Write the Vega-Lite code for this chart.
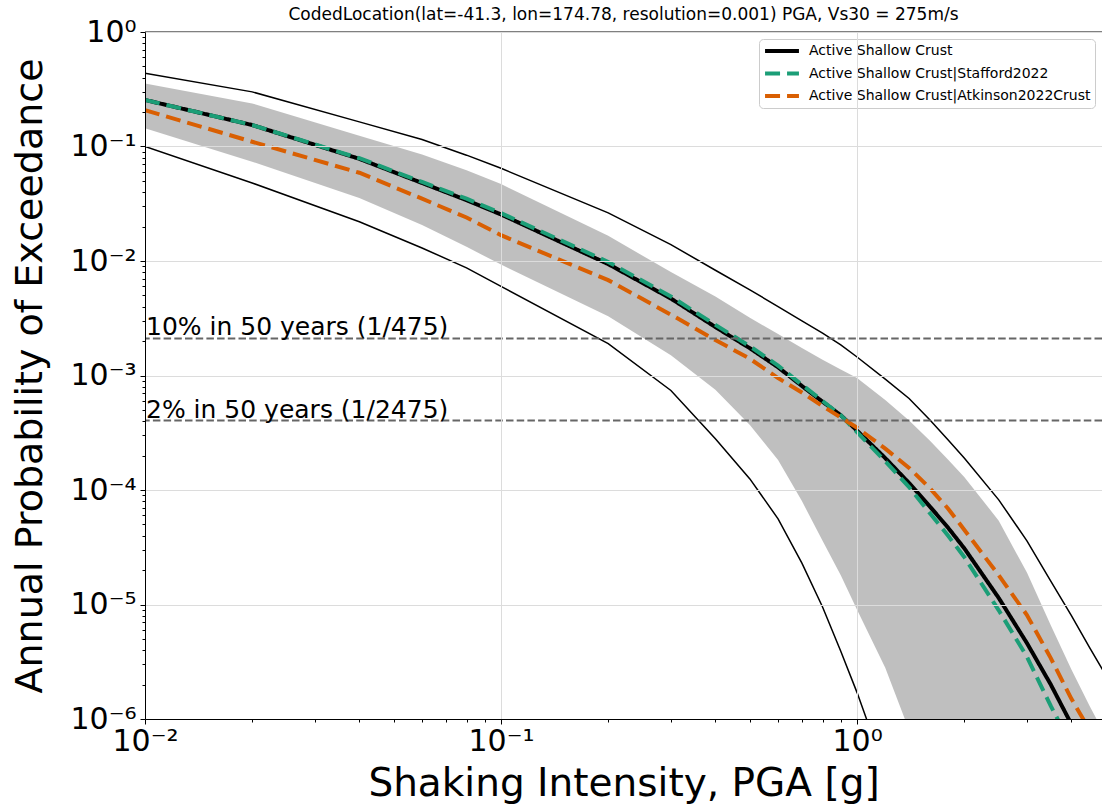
{
  "$schema": "https://vega.github.io/schema/vega-lite/v6.json",
  "width": 957,
  "height": 687,
  "autosize": "none",
  "padding": {"left": 145, "top": 32, "right": 0, "bottom": 88},
  "background": "white",
  "title": {"text": "CodedLocation(lat=-41.3, lon=174.78, resolution=0.001) PGA, Vs30 = 275m/s", "fontSize": 17, "font": "DejaVu Sans", "fontWeight": "normal", "color": "black", "anchor": "middle", "frame": "group", "offset": -7},
  "datasets": {
    "band": [
      {"pga": 0.01, "hi": 0.355, "lo": 0.144},
      {"pga": 0.02, "hi": 0.238, "lo": 0.0736},
      {"pga": 0.04, "hi": 0.124, "lo": 0.0355},
      {"pga": 0.06, "hi": 0.085, "lo": 0.0206},
      {"pga": 0.08, "hi": 0.062, "lo": 0.0133},
      {"pga": 0.1, "hi": 0.047, "lo": 0.0093},
      {"pga": 0.2, "hi": 0.0166, "lo": 0.0033},
      {"pga": 0.3, "hi": 0.008, "lo": 0.0015},
      {"pga": 0.4, "hi": 0.0049, "lo": 0.00075},
      {"pga": 0.5, "hi": 0.0032, "lo": 0.00037},
      {"pga": 0.6, "hi": 0.0023, "lo": 0.000183},
      {"pga": 0.7, "hi": 0.00174, "lo": 0.00008},
      {"pga": 0.8, "hi": 0.00137, "lo": 0.000036},
      {"pga": 0.9, "hi": 0.00113, "lo": 0.000018},
      {"pga": 1.0, "hi": 0.00095, "lo": 0.000009},
      {"pga": 1.2, "hi": 0.00061, "lo": 0.0000028},
      {"pga": 1.4, "hi": 0.000405, "lo": 0.0000008},
      {"pga": 1.6, "hi": 0.00027, "lo": 0.00000022},
      {"pga": 1.8, "hi": 0.000185, "lo": 0.00000006},
      {"pga": 2.0, "hi": 0.00013, "lo": 0.000000015},
      {"pga": 2.5, "hi": 0.000054, "lo": 1e-9},
      {"pga": 3.0, "hi": 0.000019, "lo": 1e-10},
      {"pga": 3.5, "hi": 0.0000066, "lo": 1e-11},
      {"pga": 4.0, "hi": 0.0000027, "lo": 1e-12},
      {"pga": 4.5, "hi": 0.0000013, "lo": 1e-13},
      {"pga": 5.0, "hi": 0.0000007, "lo": 1e-14}
    ],
    "bounds": [
      {"pga": 0.01, "v": 0.436, "b": "upper"},
      {"pga": 0.02, "v": 0.3, "b": "upper"},
      {"pga": 0.04, "v": 0.164, "b": "upper"},
      {"pga": 0.06, "v": 0.115, "b": "upper"},
      {"pga": 0.08, "v": 0.084, "b": "upper"},
      {"pga": 0.1, "v": 0.0645, "b": "upper"},
      {"pga": 0.2, "v": 0.0263, "b": "upper"},
      {"pga": 0.3, "v": 0.0139, "b": "upper"},
      {"pga": 0.4, "v": 0.0083, "b": "upper"},
      {"pga": 0.5, "v": 0.0056, "b": "upper"},
      {"pga": 0.6, "v": 0.004, "b": "upper"},
      {"pga": 0.7, "v": 0.003, "b": "upper"},
      {"pga": 0.8, "v": 0.00234, "b": "upper"},
      {"pga": 0.9, "v": 0.00185, "b": "upper"},
      {"pga": 1.0, "v": 0.00145, "b": "upper"},
      {"pga": 1.2, "v": 0.00093, "b": "upper"},
      {"pga": 1.4, "v": 0.00063, "b": "upper"},
      {"pga": 1.6, "v": 0.00041, "b": "upper"},
      {"pga": 1.8, "v": 0.000275, "b": "upper"},
      {"pga": 2.0, "v": 0.00019, "b": "upper"},
      {"pga": 2.5, "v": 0.000082, "b": "upper"},
      {"pga": 3.0, "v": 0.000036, "b": "upper"},
      {"pga": 3.5, "v": 0.000016, "b": "upper"},
      {"pga": 4.0, "v": 0.000008, "b": "upper"},
      {"pga": 4.5, "v": 0.0000042, "b": "upper"},
      {"pga": 5.0, "v": 0.0000024, "b": "upper"},
      {"pga": 0.01, "v": 0.1, "b": "lower"},
      {"pga": 0.02, "v": 0.048, "b": "lower"},
      {"pga": 0.04, "v": 0.022, "b": "lower"},
      {"pga": 0.06, "v": 0.013, "b": "lower"},
      {"pga": 0.08, "v": 0.0087, "b": "lower"},
      {"pga": 0.1, "v": 0.006, "b": "lower"},
      {"pga": 0.2, "v": 0.0019, "b": "lower"},
      {"pga": 0.3, "v": 0.00074, "b": "lower"},
      {"pga": 0.4, "v": 0.00028, "b": "lower"},
      {"pga": 0.5, "v": 0.000125, "b": "lower"},
      {"pga": 0.6, "v": 0.000056, "b": "lower"},
      {"pga": 0.7, "v": 0.000023, "b": "lower"},
      {"pga": 0.8, "v": 0.0000095, "b": "lower"},
      {"pga": 0.9, "v": 0.0000039, "b": "lower"},
      {"pga": 1.0, "v": 0.0000017, "b": "lower"},
      {"pga": 1.2, "v": 0.00000035, "b": "lower"},
      {"pga": 1.4, "v": 0.00000006, "b": "lower"}
    ],
    "main": [
      {"pga": 0.01, "v": 0.255, "model": "Active Shallow Crust"},
      {"pga": 0.02, "v": 0.154, "model": "Active Shallow Crust"},
      {"pga": 0.04, "v": 0.078, "model": "Active Shallow Crust"},
      {"pga": 0.06, "v": 0.048, "model": "Active Shallow Crust"},
      {"pga": 0.08, "v": 0.034, "model": "Active Shallow Crust"},
      {"pga": 0.1, "v": 0.0255, "model": "Active Shallow Crust"},
      {"pga": 0.2, "v": 0.0094, "model": "Active Shallow Crust"},
      {"pga": 0.3, "v": 0.0047, "model": "Active Shallow Crust"},
      {"pga": 0.4, "v": 0.00265, "model": "Active Shallow Crust"},
      {"pga": 0.5, "v": 0.00173, "model": "Active Shallow Crust"},
      {"pga": 0.6, "v": 0.00118, "model": "Active Shallow Crust"},
      {"pga": 0.7, "v": 0.00081, "model": "Active Shallow Crust"},
      {"pga": 0.8, "v": 0.00059, "model": "Active Shallow Crust"},
      {"pga": 0.9, "v": 0.00045, "model": "Active Shallow Crust"},
      {"pga": 1.0, "v": 0.00033, "model": "Active Shallow Crust"},
      {"pga": 1.2, "v": 0.00019, "model": "Active Shallow Crust"},
      {"pga": 1.4, "v": 0.000115, "model": "Active Shallow Crust"},
      {"pga": 1.6, "v": 0.000072, "model": "Active Shallow Crust"},
      {"pga": 1.8, "v": 0.000047, "model": "Active Shallow Crust"},
      {"pga": 2.0, "v": 0.000031, "model": "Active Shallow Crust"},
      {"pga": 2.5, "v": 0.0000114, "model": "Active Shallow Crust"},
      {"pga": 3.0, "v": 0.0000046, "model": "Active Shallow Crust"},
      {"pga": 3.5, "v": 0.000002, "model": "Active Shallow Crust"},
      {"pga": 4.0, "v": 0.0000009, "model": "Active Shallow Crust"},
      {"pga": 4.5, "v": 0.0000004, "model": "Active Shallow Crust"},
      {"pga": 5.0, "v": 0.00000018, "model": "Active Shallow Crust"},
      {"pga": 0.01, "v": 0.255, "model": "Active Shallow Crust|Stafford2022"},
      {"pga": 0.02, "v": 0.154, "model": "Active Shallow Crust|Stafford2022"},
      {"pga": 0.04, "v": 0.079, "model": "Active Shallow Crust|Stafford2022"},
      {"pga": 0.06, "v": 0.049, "model": "Active Shallow Crust|Stafford2022"},
      {"pga": 0.08, "v": 0.035, "model": "Active Shallow Crust|Stafford2022"},
      {"pga": 0.1, "v": 0.0262, "model": "Active Shallow Crust|Stafford2022"},
      {"pga": 0.2, "v": 0.0098, "model": "Active Shallow Crust|Stafford2022"},
      {"pga": 0.3, "v": 0.0049, "model": "Active Shallow Crust|Stafford2022"},
      {"pga": 0.4, "v": 0.00277, "model": "Active Shallow Crust|Stafford2022"},
      {"pga": 0.5, "v": 0.0018, "model": "Active Shallow Crust|Stafford2022"},
      {"pga": 0.6, "v": 0.00122, "model": "Active Shallow Crust|Stafford2022"},
      {"pga": 0.7, "v": 0.00083, "model": "Active Shallow Crust|Stafford2022"},
      {"pga": 0.8, "v": 0.0006, "model": "Active Shallow Crust|Stafford2022"},
      {"pga": 0.9, "v": 0.00045, "model": "Active Shallow Crust|Stafford2022"},
      {"pga": 1.0, "v": 0.00032, "model": "Active Shallow Crust|Stafford2022"},
      {"pga": 1.2, "v": 0.000178, "model": "Active Shallow Crust|Stafford2022"},
      {"pga": 1.4, "v": 0.000106, "model": "Active Shallow Crust|Stafford2022"},
      {"pga": 1.6, "v": 0.000063, "model": "Active Shallow Crust|Stafford2022"},
      {"pga": 1.8, "v": 0.00004, "model": "Active Shallow Crust|Stafford2022"},
      {"pga": 2.0, "v": 0.000026, "model": "Active Shallow Crust|Stafford2022"},
      {"pga": 2.5, "v": 0.0000089, "model": "Active Shallow Crust|Stafford2022"},
      {"pga": 3.0, "v": 0.0000035, "model": "Active Shallow Crust|Stafford2022"},
      {"pga": 3.5, "v": 0.0000013, "model": "Active Shallow Crust|Stafford2022"},
      {"pga": 4.0, "v": 0.00000059, "model": "Active Shallow Crust|Stafford2022"},
      {"pga": 4.5, "v": 0.00000025, "model": "Active Shallow Crust|Stafford2022"},
      {"pga": 5.0, "v": 0.0000001, "model": "Active Shallow Crust|Stafford2022"},
      {"pga": 0.01, "v": 0.208, "model": "Active Shallow Crust|Atkinson2022Crust"},
      {"pga": 0.02, "v": 0.11, "model": "Active Shallow Crust|Atkinson2022Crust"},
      {"pga": 0.04, "v": 0.059, "model": "Active Shallow Crust|Atkinson2022Crust"},
      {"pga": 0.06, "v": 0.035, "model": "Active Shallow Crust|Atkinson2022Crust"},
      {"pga": 0.08, "v": 0.024, "model": "Active Shallow Crust|Atkinson2022Crust"},
      {"pga": 0.1, "v": 0.0168, "model": "Active Shallow Crust|Atkinson2022Crust"},
      {"pga": 0.2, "v": 0.0068, "model": "Active Shallow Crust|Atkinson2022Crust"},
      {"pga": 0.3, "v": 0.0034, "model": "Active Shallow Crust|Atkinson2022Crust"},
      {"pga": 0.4, "v": 0.00204, "model": "Active Shallow Crust|Atkinson2022Crust"},
      {"pga": 0.5, "v": 0.0014, "model": "Active Shallow Crust|Atkinson2022Crust"},
      {"pga": 0.6, "v": 0.00095, "model": "Active Shallow Crust|Atkinson2022Crust"},
      {"pga": 0.7, "v": 0.00071, "model": "Active Shallow Crust|Atkinson2022Crust"},
      {"pga": 0.8, "v": 0.00054, "model": "Active Shallow Crust|Atkinson2022Crust"},
      {"pga": 0.9, "v": 0.00043, "model": "Active Shallow Crust|Atkinson2022Crust"},
      {"pga": 1.0, "v": 0.00035, "model": "Active Shallow Crust|Atkinson2022Crust"},
      {"pga": 1.2, "v": 0.00023, "model": "Active Shallow Crust|Atkinson2022Crust"},
      {"pga": 1.4, "v": 0.000156, "model": "Active Shallow Crust|Atkinson2022Crust"},
      {"pga": 1.6, "v": 0.000104, "model": "Active Shallow Crust|Atkinson2022Crust"},
      {"pga": 1.8, "v": 0.000069, "model": "Active Shallow Crust|Atkinson2022Crust"},
      {"pga": 2.0, "v": 0.000045, "model": "Active Shallow Crust|Atkinson2022Crust"},
      {"pga": 2.5, "v": 0.000018, "model": "Active Shallow Crust|Atkinson2022Crust"},
      {"pga": 3.0, "v": 0.0000081, "model": "Active Shallow Crust|Atkinson2022Crust"},
      {"pga": 3.5, "v": 0.0000034, "model": "Active Shallow Crust|Atkinson2022Crust"},
      {"pga": 4.0, "v": 0.0000015, "model": "Active Shallow Crust|Atkinson2022Crust"},
      {"pga": 4.5, "v": 0.0000008, "model": "Active Shallow Crust|Atkinson2022Crust"},
      {"pga": 5.0, "v": 0.0000004, "model": "Active Shallow Crust|Atkinson2022Crust"}
    ],
    "refs": [
      {"p": 0.0021053, "label": "10% in 50 years (1/475)"},
      {"p": 0.00040404, "label": "2% in 50 years (1/2475)"}
    ]
  },
  "layer": [
    {
      "data": {"name": "band"},
      "mark": {"type": "area", "color": "#808080", "opacity": 0.5, "clip": true, "strokeWidth": 0},
      "encoding": {
        "x": {
          "field": "pga", "type": "quantitative", "title": "Shaking Intensity, PGA [g]",
          "scale": {"type": "log", "domain": [0.01, 4.875], "nice": false},
          "axis": {
            "values": [0.01, 0.02, 0.03, 0.04, 0.05, 0.06, 0.07, 0.08, 0.09, 0.1, 0.2, 0.3, 0.4, 0.5, 0.6, 0.7, 0.8, 0.9, 1, 2, 3, 4],
            "labelExpr": "datum.value == 0.01 ? '10⁻²' : datum.value == 0.1 ? '10⁻¹' : datum.value == 1 ? '10⁰' : ''",
            "labelFont": "DejaVu Sans", "labelFontSize": 30, "labelColor": "black", "labelPadding": 2, "labelOverlap": false, "labelFlush": false,
            "tickColor": "black", "tickWidth": 1,
            "tickSize": {"condition": {"test": "datum.value == 0.01 || datum.value == 0.1 || datum.value == 1", "value": 5}, "value": 3},
            "gridColor": "#dcdcdc", "gridWidth": 1,
            "gridOpacity": {"condition": {"test": "datum.value == 0.01 || datum.value == 0.1 || datum.value == 1", "value": 1}, "value": 0},
            "domainColor": "black", "domainWidth": 1,
            "titleFont": "DejaVu Sans", "titleFontSize": 39, "titleFontWeight": "normal", "titleColor": "black", "titlePadding": 8,
            "zindex": 1
          }
        },
        "y": {
          "field": "hi", "type": "quantitative", "title": "Annual Probability of Exceedance",
          "scale": {"type": "log", "domain": [0.000001, 1], "nice": false},
          "axis": {
            "values": [0.000001, 0.000002, 0.000003, 0.000004, 0.000005, 0.000006, 0.000007, 0.000008, 0.000009, 0.00001, 0.00002, 0.00003, 0.00004, 0.00005, 0.00006, 0.00007, 0.00008, 0.00009, 0.0001, 0.0002, 0.0003, 0.0004, 0.0005, 0.0006, 0.0007, 0.0008, 0.0009, 0.001, 0.002, 0.003, 0.004, 0.005, 0.006, 0.007, 0.008, 0.009, 0.01, 0.02, 0.03, 0.04, 0.05, 0.06, 0.07, 0.08, 0.09, 0.1, 0.2, 0.3, 0.4, 0.5, 0.6, 0.7, 0.8, 0.9, 1],
            "labelExpr": "(round(log(datum.value)/LN10*1000) % 1000 == 0) ? ['10⁻⁶','10⁻⁵','10⁻⁴','10⁻³','10⁻²','10⁻¹','10⁰'][round(log(datum.value)/LN10) + 6] : ''",
            "labelFont": "DejaVu Sans", "labelFontSize": 30, "labelColor": "black", "labelPadding": 4, "labelOverlap": false, "labelFlush": false,
            "tickColor": "black", "tickWidth": 1,
            "tickSize": {"condition": {"test": "round(log(datum.value)/LN10*1000) % 1000 == 0", "value": 5}, "value": 3},
            "gridColor": "#dcdcdc", "gridWidth": 1,
            "gridOpacity": {"condition": {"test": "round(log(datum.value)/LN10*1000) % 1000 == 0", "value": 1}, "value": 0},
            "domainColor": "black", "domainWidth": 1,
            "titleFont": "DejaVu Sans", "titleFontSize": 38, "titleFontWeight": "normal", "titleColor": "black", "titlePadding": 20,
            "zindex": 1
          }
        },
        "y2": {"field": "lo"}
      }
    },
    {
      "data": {"name": "bounds"},
      "mark": {"type": "line", "color": "black", "strokeWidth": 1.5, "clip": true},
      "encoding": {
        "x": {"field": "pga", "type": "quantitative", "title": "Shaking Intensity, PGA [g]", "scale": {"type": "log", "domain": [0.01, 4.875], "nice": false}},
        "y": {"field": "v", "type": "quantitative", "title": "Annual Probability of Exceedance", "scale": {"type": "log", "domain": [0.000001, 1], "nice": false}},
        "detail": {"field": "b"}
      }
    },
    {
      "data": {"name": "main"},
      "mark": {"type": "line", "strokeWidth": 4, "clip": true},
      "encoding": {
        "x": {"field": "pga", "type": "quantitative", "title": "Shaking Intensity, PGA [g]", "scale": {"type": "log", "domain": [0.01, 4.875], "nice": false}},
        "y": {"field": "v", "type": "quantitative", "title": "Annual Probability of Exceedance", "scale": {"type": "log", "domain": [0.000001, 1], "nice": false}},
        "color": {
          "field": "model", "type": "nominal",
          "scale": {"domain": ["Active Shallow Crust", "Active Shallow Crust|Stafford2022", "Active Shallow Crust|Atkinson2022Crust"], "range": ["#000000", "#1b9e77", "#d95f02"]},
          "legend": {"orient": "none", "legendX": 614, "legendY": 7, "title": null, "symbolType": "stroke", "symbolSize": 1150, "symbolStrokeWidth": 4, "clipHeight": 16, "labelFont": "DejaVu Sans", "labelFontSize": 14, "labelColor": "black", "labelLimit": 400, "labelOffset": 8, "fillColor": "rgba(255,255,255,0.8)", "strokeColor": "#cccccc", "cornerRadius": 4, "padding": 4, "rowPadding": 6.5}
        },
        "strokeDash": {
          "field": "model", "type": "nominal",
          "scale": {"domain": ["Active Shallow Crust", "Active Shallow Crust|Stafford2022", "Active Shallow Crust|Atkinson2022Crust"], "range": [[1, 0], [15, 7], [15, 7]]}
        }
      }
    },
    {
      "data": {"name": "refs"},
      "mark": {"type": "rule", "color": "#666666", "strokeWidth": 2, "strokeDash": [7.5, 3.2]},
      "encoding": {
        "y": {"field": "p", "type": "quantitative", "title": "Annual Probability of Exceedance", "scale": {"type": "log", "domain": [0.000001, 1], "nice": false}}
      }
    },
    {
      "data": {"name": "refs"},
      "mark": {"type": "text", "align": "left", "baseline": "alphabetic", "dx": 1, "dy": -3, "fontSize": 25, "font": "DejaVu Sans", "color": "black"},
      "encoding": {
        "x": {"datum": 0.01, "type": "quantitative"},
        "y": {"field": "p", "type": "quantitative", "title": "Annual Probability of Exceedance", "scale": {"type": "log", "domain": [0.000001, 1], "nice": false}},
        "text": {"field": "label"}
      }
    },
    {
      "data": {"values": [{}]},
      "mark": {"type": "rule", "color": "black", "strokeWidth": 1},
      "encoding": {
        "y": {"datum": 1, "type": "quantitative"}
      }
    }
  ],
  "config": {
    "font": "DejaVu Sans",
    "view": {"stroke": null}
  }
}
